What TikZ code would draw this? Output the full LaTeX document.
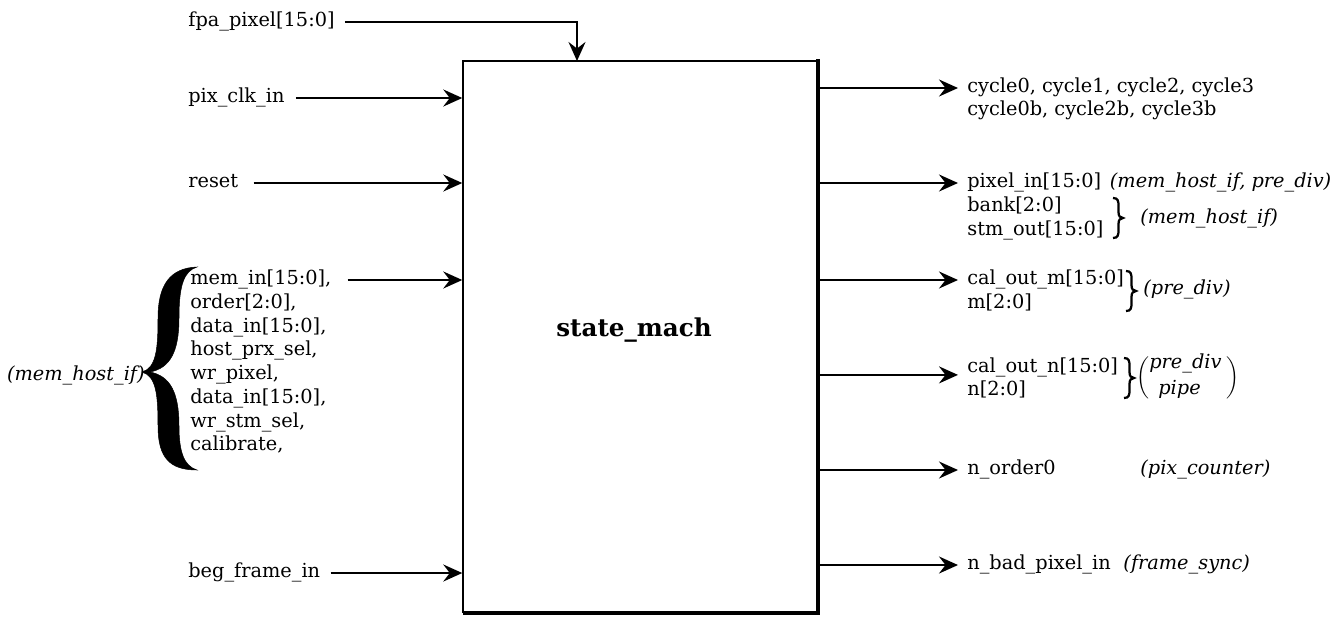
\documentclass[tikz,border=0pt]{standalone}
\usepackage{fontspec}
\setmainfont{DejaVu Serif}
\usetikzlibrary{arrows.meta,calc}
\newcommand{\lblfont}{\fontsize{11}{13}\selectfont}
\newcommand{\ilblfont}{\fontsize{11}{13}\selectfont\itshape}
% right-hand curly brace: x of hooks, top y, bottom y
\newcommand{\rbrshape}[3]{%
  \draw[brline] (#1,#2) .. controls (#1+5,#2) and (#1+5.5,#2+3) .. (#1+5.5,#2+8)
    -- (#1+5.5,{(#2+#3)/2-6}) .. controls (#1+5.5,{(#2+#3)/2-2}) and (#1+7,{(#2+#3)/2}) .. (#1+10,{(#2+#3)/2})
    .. controls (#1+7,{(#2+#3)/2}) and (#1+5.5,{(#2+#3)/2+2}) .. (#1+5.5,{(#2+#3)/2+6})
    -- (#1+5.5,#3-8) .. controls (#1+5.5,#3-3) and (#1+5,#3) .. (#1,#3);}
\begin{document}
\begin{tikzpicture}[x=0.02cm,y=-0.02cm,
  lbl/.style={font=\lblfont, inner sep=0pt, text height=8pt, text depth=2.5pt, anchor=west},
  ilbl/.style={lbl, font=\ilblfont},
  conn/.style={line width=0.04cm},
  arr/.style={conn, -{Stealth[length=0.38cm,width=0.34cm,inset=0.13cm]}},
  brline/.style={line width=0.045cm},
  bracefill/.style={fill=black, draw=black, line width=0.01cm}]
\useasboundingbox (0,0) rectangle (1338,623);

% main block
\node[draw, line width=0.03cm, minimum width=7.08cm, minimum height=11.02cm, inner sep=0pt] (sm) at (640,336.5) {};
\draw[line width=0.08cm] ([xshift=0.01cm,yshift=0.02cm]sm.north east) -- ([xshift=0.01cm,yshift=-0.01cm]sm.south east) -- ([xshift=0.02cm,yshift=-0.01cm]sm.south west);
\node[font=\fontsize{14}{16}\selectfont\bfseries] (title) at (634,330) {state\_mach};

% left labels
\node[lbl] (fpa) at (188,22) {fpa\_pixel[15:0]};
\node[lbl] (pix) at (188,98) {pix\_clk\_in};
\node[lbl] (rst) at (188,183) {reset};
\node[lbl] (beg) at (188,573) {beg\_frame\_in};

\node[lbl] (l1) at (190,280) {mem\_in[15:0],};
\node[lbl] (l2) at (190,303.7) {order[2:0],};
\node[lbl] (l3) at (190,327.4) {data\_in[15:0],};
\node[lbl] (l4) at (190,351.1) {host\_prx\_sel,};
\node[lbl] (l5) at (190,374.8) {wr\_pixel,};
\node[lbl] (l6) at (190,398.5) {data\_in[15:0],};
\node[lbl] (l7) at (190,422.2) {wr\_stm\_sel,};
\node[lbl] (l8) at (190,445.9) {calibrate,};

% left brace
\fill[bracefill] (197,267) .. controls (170,268) and (158,285) .. (158,318)
  .. controls (158,350) and (156,368) .. (142,372)
  .. controls (156,376) and (158,394) .. (158,426)
  .. controls (158,458) and (170,470) .. (197,470)
  .. controls (184,466) and (179,452) .. (179,426)
  .. controls (179,392) and (170,376) .. (150,372)
  .. controls (170,368) and (179,352) .. (179,318)
  .. controls (179,285) and (184,271) .. (197,267) -- cycle;
\node[ilbl, anchor=east] (mhl) at (145,376) {(mem\_host\_if)};

% input connectors
\coordinate (fpain) at (577,61);
\draw[arr] ($(fpa.east)+(10,0)$) -| (fpain);
\draw[arr] ($(pix.east)+(11,0)$) -- (pix.east -| sm.west);
\draw[arr] ($(rst.east)+(15,0)$) -- (rst.east -| sm.west);
\draw[arr] ($(l1.east)+(16,0)$) -- (l1.east -| sm.west);
\draw[arr] ($(beg.east)+(10,0)$) -- (beg.east -| sm.west);

% right labels
\node[lbl] (c1) at (967,88) {cycle0, cycle1, cycle2, cycle3};
\node[lbl] (c2) at (967,111) {cycle0b, cycle2b, cycle3b};

\node[lbl] (pin) at (967,183) {pixel\_in[15:0]};
\node[ilbl] (mhp) at ($(pin.east)+(8,0)$) {(mem\_host\_if, pre\_div)};
\node[lbl] (bank) at (967,207) {bank[2:0]};
\node[lbl] (stm) at (967,231) {stm\_out[15:0]};
\rbrshape{1113}{198}{238}
\node[ilbl] (mh2) at (1140,219) {(mem\_host\_if)};

\node[lbl] (com) at (967,280) {cal\_out\_m[15:0]};
\node[lbl] (m) at (967,304) {m[2:0]};
\rbrshape{1126}{271}{311}
\node[ilbl] (pd) at (1143,290) {(pre\_div)};

\node[lbl] (con) at (967,368) {cal\_out\_n[15:0]};
\node[lbl] (n) at (967,391) {n[2:0]};
\rbrshape{1124}{358}{398}
\node[inner sep=0pt] (lp) at (1143,378) {$\biggl($};
\node[ilbl] (pdv) at (1149,364) {pre\_div};
\node[ilbl] (pip) at (1158,390) {pipe};
\node[inner sep=0pt] (rp) at (1233,378) {$\biggr)$};

\node[lbl] (nord) at (967,470) {n\_order0};
\node[ilbl] (pc) at (1140,470) {(pix\_counter)};

\node[lbl] (nbad) at (967,565) {n\_bad\_pixel\_in};
\node[ilbl] (fs) at ($(nbad.east)+(12,0)$) {(frame\_sync)};

% output connectors
\draw[arr] (c1.west -| sm.east) -- ($(c1.west)+(-9,0)$);
\draw[arr] (pin.west -| sm.east) -- ($(pin.west)+(-9,0)$);
\draw[arr] (com.west -| sm.east) -- ($(com.west)+(-9,0)$);
\coordinate (conarr) at ($(con.west)!0.3!(n.west)+(-9,0)$);
\draw[arr] (conarr -| sm.east) -- (conarr);
\draw[arr] (nord.west -| sm.east) -- ($(nord.west)+(-9,0)$);
\draw[arr] (nbad.west -| sm.east) -- ($(nbad.west)+(-9,0)$);
\end{tikzpicture}
\end{document}
